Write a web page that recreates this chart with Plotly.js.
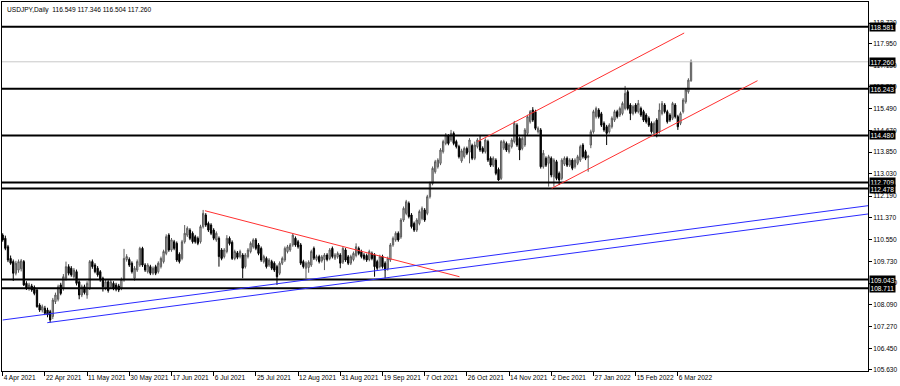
<!DOCTYPE html>
<html>
<head>
<meta charset="utf-8">
<script src="https://cdn.plot.ly/plotly-3.0.1.min.js"></script>
<style>html,body{margin:0;padding:0;background:#fff;}#chart{width:900px;height:386px;}</style>
</head>
<body>
<div id="chart"></div>
<script>
const symbolTitle = "USDJPY,Daily  116.549 117.346 116.504 117.260";

const openP = [
110.72,110.60,110.28,109.84,109.72,109.28,109.40,109.45,109.72,108.90,
108.72,108.80,108.75,108.65,108.08,107.89,107.96,107.89,107.83,107.65,
108.21,108.30,108.84,108.71,109.09,109.53,109.47,109.15,109.34,108.96,
108.46,108.77,108.46,108.71,109.72,109.59,109.47,109.34,109.09,108.71,
108.96,108.77,108.90,108.84,108.80,108.71,109.03,109.80,109.80,109.66,
109.09,109.40,109.59,110.22,109.59,109.34,109.53,109.28,109.53,109.34,
109.53,109.72,110.03,110.72,110.16,110.47,110.41,110.00,109.84,110.47,
110.72,110.91,110.79,110.66,110.60,110.47,111.04,111.48,111.16,111.10,
110.91,110.54,110.60,110.16,109.91,110.10,110.60,110.45,109.84,110.05,
109.91,109.97,109.53,109.91,110.10,110.28,110.54,110.35,110.22,109.72,
109.84,109.59,109.72,109.66,109.53,109.28,109.66,109.78,110.10,110.16,
110.35,110.60,110.47,110.35,109.72,109.47,109.50,109.59,110.22,109.80,
109.91,109.75,109.80,109.97,109.84,110.22,109.85,109.90,109.97,109.70,
110.16,109.90,109.66,109.80,109.95,110.22,110.10,109.97,109.95,109.80,
110.03,109.97,109.72,109.53,109.91,109.66,109.45,109.78,110.35,110.54,
110.79,110.65,111.29,111.54,111.92,111.48,111.16,110.91,111.16,111.35,
111.67,111.54,112.17,112.67,113.11,113.30,113.43,113.87,114.18,114.46,
114.31,114.56,114.25,114.06,113.52,113.68,113.99,113.85,114.10,113.62,
114.06,114.25,114.00,113.87,114.25,113.62,113.36,113.55,113.20,112.86,
114.00,114.18,113.87,114.06,114.25,114.87,114.37,113.99,114.12,114.56,
115.00,115.44,115.38,114.62,114.69,113.30,113.62,113.43,113.62,112.92,
113.49,113.05,112.86,113.40,113.62,113.36,113.55,113.30,113.43,113.55,
114.12,113.87,113.65,114.12,114.62,115.19,115.44,115.30,114.94,114.81,
114.62,114.81,115.06,115.38,115.25,115.31,115.50,116.13,115.63,115.31,
115.63,115.38,115.50,115.38,115.25,115.13,114.94,114.56,115.06,114.62,
115.31,115.63,115.38,115.25,115.13,115.63,115.19,114.94,115.38,115.75,
116.13,116.549];

const highP = [
110.79,110.70,110.35,109.95,109.80,109.75,109.80,109.82,109.78,108.98,
108.92,108.88,108.82,108.70,108.15,108.10,108.05,107.98,107.90,108.35,
108.55,108.85,108.92,109.25,109.72,109.62,109.55,109.48,109.42,109.02,
108.85,108.85,108.98,109.78,109.80,109.66,109.55,109.40,109.15,109.03,
109.02,109.03,108.98,108.92,108.88,109.12,110.20,110.00,109.88,109.73,
109.55,109.80,110.28,110.28,109.66,109.66,109.60,109.54,109.60,109.73,
109.91,110.17,110.75,110.79,110.61,110.54,110.48,110.07,110.54,111.10,
111.05,110.98,110.86,110.73,110.67,111.11,111.67,111.55,111.23,111.17,
110.98,110.86,110.67,110.23,110.23,110.72,110.67,110.52,110.17,110.12,
110.17,110.04,110.04,110.23,110.48,110.60,110.61,110.42,110.29,109.98,
109.91,109.85,109.79,109.73,109.60,109.73,109.91,110.29,110.35,110.42,
110.79,110.67,110.54,110.42,109.79,109.73,109.77,110.17,110.29,109.98,
109.98,109.97,110.04,110.04,110.23,110.29,110.04,110.10,110.04,110.29,
110.23,109.97,109.98,110.10,110.41,110.29,110.17,110.04,110.02,110.17,
110.10,110.04,109.79,109.98,109.98,109.73,109.91,110.42,110.67,110.86,
110.86,111.36,111.80,112.05,111.99,111.55,111.23,111.36,111.68,111.80,
111.74,112.24,112.74,113.31,113.56,113.62,114.00,114.32,114.57,114.53,
114.69,114.63,114.32,114.13,113.98,114.06,114.06,114.38,114.17,114.25,
114.38,114.50,114.07,114.37,114.32,113.69,113.69,113.62,113.27,114.31,
114.32,114.25,114.19,114.38,115.03,114.94,114.44,114.44,114.76,115.26,
115.44,115.55,115.45,114.82,114.76,113.93,113.69,113.75,113.69,113.62,
113.56,113.12,113.62,113.69,113.69,113.62,113.62,113.62,113.75,114.13,
114.19,113.94,113.75,114.70,115.45,115.57,115.51,115.37,115.01,114.88,
114.94,115.20,115.45,115.45,115.57,115.76,116.35,116.20,115.70,115.64,
115.70,115.82,115.57,115.45,115.32,115.20,115.01,115.01,115.13,115.69,
115.78,115.70,115.45,115.32,115.75,115.70,115.26,115.38,115.89,116.27,
116.64,117.346];

const lowP = [
110.47,110.15,109.70,109.60,108.99,109.20,109.30,109.35,108.80,108.65,
108.62,108.58,108.45,107.98,107.82,107.80,107.70,107.62,107.42,107.55,
108.12,108.22,108.45,108.62,109.00,109.20,109.15,109.08,108.82,108.30,
108.38,108.48,108.32,108.65,109.45,109.28,109.15,108.96,108.59,108.64,
108.55,108.70,108.64,108.60,108.57,108.64,108.96,109.72,109.52,109.27,
109.00,109.33,109.52,109.52,109.33,109.27,109.21,109.21,109.21,109.27,
109.46,109.65,109.96,110.09,110.09,110.15,109.71,109.65,109.77,110.40,
110.65,110.53,110.40,110.40,110.34,110.40,110.97,111.03,110.84,110.72,
110.53,110.47,109.53,109.77,109.84,110.03,110.33,109.78,109.77,109.81,
109.84,109.09,109.46,109.84,110.03,110.21,110.15,109.96,109.71,109.65,
109.46,109.52,109.40,109.33,108.84,109.21,109.59,109.71,110.03,110.09,
110.28,110.28,110.21,109.59,109.46,109.09,109.30,109.52,109.78,109.73,
109.65,109.68,109.40,109.73,109.77,109.84,109.78,109.83,109.47,109.63,
109.71,109.59,109.59,109.73,109.88,109.96,109.84,109.77,109.71,109.73,
109.77,109.15,109.40,109.46,109.46,109.09,109.38,109.71,110.28,110.47,
110.47,110.58,111.22,111.47,111.35,110.97,110.84,110.84,111.09,111.28,
111.22,111.47,112.10,112.60,113.04,113.23,113.36,113.80,114.11,114.11,
114.24,114.11,113.99,113.61,113.45,113.61,113.74,113.43,113.55,113.55,
113.99,113.86,113.80,113.80,113.48,113.29,113.29,112.98,112.77,112.80,
113.93,113.86,113.80,113.99,114.18,114.05,113.55,113.92,114.05,114.49,
114.93,114.99,114.68,114.55,113.23,113.23,113.29,112.55,112.90,112.55,
112.79,112.61,112.79,113.33,113.29,113.29,113.17,113.23,113.36,113.48,
113.61,113.55,113.11,114.00,114.55,115.12,115.12,114.80,114.62,114.12,
114.55,114.74,114.99,115.12,115.18,115.24,115.43,115.43,115.06,115.24,
115.31,115.31,115.18,114.99,114.93,114.80,114.55,114.50,114.41,114.55,
115.24,115.31,114.93,114.99,115.06,115.12,114.69,114.87,115.31,115.68,
116.06,116.504];

const closeP = [
110.54,110.22,109.78,109.66,109.28,109.66,109.72,109.75,108.84,108.71,
108.84,108.65,108.52,108.02,107.89,108.02,107.77,107.71,107.52,108.27,
108.46,108.77,108.52,109.15,109.53,109.28,109.22,109.40,108.90,108.46,
108.77,108.55,108.90,109.72,109.53,109.34,109.22,109.03,108.77,108.96,
108.63,108.96,108.71,108.68,108.65,109.05,109.84,109.91,109.59,109.34,
109.47,109.72,110.22,109.59,109.40,109.59,109.28,109.47,109.28,109.66,
109.84,110.10,110.66,110.16,110.54,110.22,109.78,109.72,110.47,110.79,
110.98,110.60,110.47,110.47,110.41,111.04,111.54,111.10,110.91,110.79,
110.60,110.79,109.91,109.84,110.16,110.60,110.40,109.84,110.10,109.88,
110.10,109.47,109.97,110.16,110.41,110.54,110.22,110.03,109.78,109.91,
109.53,109.78,109.47,109.40,109.15,109.66,109.84,110.22,110.28,110.35,
110.72,110.35,110.28,109.66,109.53,109.66,109.70,110.10,109.85,109.91,
109.72,109.90,109.97,109.80,110.16,109.91,109.97,110.03,109.66,110.22,
109.78,109.66,109.91,110.03,110.28,110.03,109.91,109.84,109.78,110.10,
109.84,109.53,109.47,109.91,109.53,109.40,109.84,110.35,110.60,110.79,
110.54,111.29,111.73,111.98,111.42,111.04,110.91,111.29,111.61,111.73,
111.29,112.17,112.67,113.24,113.49,113.55,113.93,114.25,114.50,114.18,
114.56,114.18,114.06,113.68,113.90,113.99,113.81,114.31,113.62,114.12,
114.31,113.93,113.87,114.31,113.55,113.36,113.62,113.05,112.80,114.25,
114.25,113.93,114.12,114.31,114.94,114.12,113.93,114.37,114.69,115.19,
115.38,115.06,114.75,114.75,113.30,113.81,113.36,113.68,112.99,113.55,
112.86,112.80,113.55,113.62,113.36,113.55,113.24,113.55,113.68,114.06,
113.68,113.62,113.70,114.62,115.38,115.50,115.19,114.87,114.69,114.56,
114.87,115.13,115.38,115.19,115.50,115.69,116.07,115.50,115.31,115.57,
115.38,115.69,115.25,115.06,115.00,114.87,114.62,114.94,114.56,115.44,
115.69,115.38,115.00,115.06,115.69,115.19,114.81,115.31,115.82,116.20,
116.57,117.260];

const dateLabels = ["4 Apr 2021","22 Apr 2021","11 May 2021","30 May 2021","17 Jun 2021","6 Jul 2021","25 Jul 2021","12 Aug 2021","31 Aug 2021","19 Sep 2021","7 Oct 2021","26 Oct 2021","14 Nov 2021","2 Dec 2021","27 Jan 2022","15 Feb 2022","6 Mar 2022"];
const dateLabelBars = [0,16,32,48,64,80,96,112,128,144,160,176,192,208,224,240,256];

const priceTicks = [118.720,117.950,117.130,116.310,115.490,114.670,113.850,113.030,112.190,111.370,110.550,109.730,108.910,108.090,107.270,106.450,105.630];

const levelPrices = [118.581,116.243,114.480,112.709,112.478,109.043,108.711];
const bidPrice = 117.260;

// trend lines: bar index / price of both ends
const trendBar0   = [76.7, 0, 16.9, 180.0, 208.2];
const trendPrice0 = [111.64, 107.517, 107.415, 114.245, 112.487];
const trendBar1   = [173.2, 328.1, 328.1, 258.4, 286.2];
const trendPrice1 = [109.15, 111.83, 111.517, 118.347, 116.547];
const trendKind   = ["red","blue","blue","red","red"];

const bars = openP.map((_, i) => i);
const FONT = "Liberation Sans, Arial, sans-serif";

const trace = {
  type: "candlestick",
  x: bars, open: openP, high: highP, low: lowP, close: closeP,
  increasing: {line: {color: "#5a5a5a", width: 1}, fillcolor: "#c4c4c4"},
  decreasing: {line: {color: "#000000", width: 1}, fillcolor: "#000000"},
  whiskerwidth: 0,
  hoverinfo: "none"
};

const shapes = [];
shapes.push({type:"line", xref:"paper", x0:0, x1:1, yref:"y", y0:bidPrice, y1:bidPrice, line:{color:"#c8c8c8", width:1}});
levelPrices.forEach(p => shapes.push({type:"line", xref:"paper", x0:0, x1:1, yref:"y", y0:p, y1:p, line:{color:"#000000", width:2}}));
trendBar0.forEach((b, k) => shapes.push({
  type:"line", xref:"x", yref:"y",
  x0:b, y0:trendPrice0[k], x1:trendBar1[k], y1:trendPrice1[k],
  line:{color: trendKind[k] === "red" ? "#ff3030" : "#2a2aff", width:1}
}));

const annotations = [{
  xref:"paper", yref:"paper", x:0, y:1, xanchor:"left", yanchor:"top",
  xshift:3, yshift:-2, showarrow:false, text:symbolTitle,
  font:{family:FONT, size:6.6, color:"#000"}
}];
levelPrices.concat([bidPrice]).forEach(p => annotations.push({
  xref:"paper", yref:"y", x:1, y:p, xanchor:"left", yanchor:"middle",
  xshift:1, showarrow:false, text:p.toFixed(3),
  bgcolor:"#000000", borderpad:0.5,
  font:{family:FONT, size:6.6, color:"#ffffff"}
}));

const layout = {
  width:900, height:386,
  margin:{l:2, r:32, t:2, b:15, pad:0},
  paper_bgcolor:"#ffffff", plot_bgcolor:"#ffffff",
  showlegend:false,
  xaxis:{
    range:[-0.265, 328.1], showgrid:false, zeroline:false,
    tickmode:"array", tickvals:dateLabelBars, ticktext:dateLabels,
    ticks:"outside", ticklen:4, tickcolor:"#000", tickwidth:1,
    tickangle:0, automargin:false,
    ticklabelposition:"outside right",
    tickfont:{family:FONT, size:6.6, color:"#000"},
    showline:true, linecolor:"#000", linewidth:1, mirror:true,
    rangeslider:{visible:false}, fixedrange:true
  },
  yaxis:{
    range:[105.592, 119.517], side:"right", showgrid:false, zeroline:false,
    tickmode:"array", tickvals:priceTicks, ticktext:priceTicks.map(v => v.toFixed(3)),
    ticks:"outside", ticklen:3, tickcolor:"#000", tickwidth:1,
    automargin:false,
    tickfont:{family:FONT, size:6.6, color:"#000"},
    showline:true, linecolor:"#000", linewidth:1, mirror:true, fixedrange:true
  },
  shapes:shapes,
  annotations:annotations
};

Plotly.newPlot("chart", [trace], layout, {staticPlot:true, displayModeBar:false});
</script>
</body>
</html>
